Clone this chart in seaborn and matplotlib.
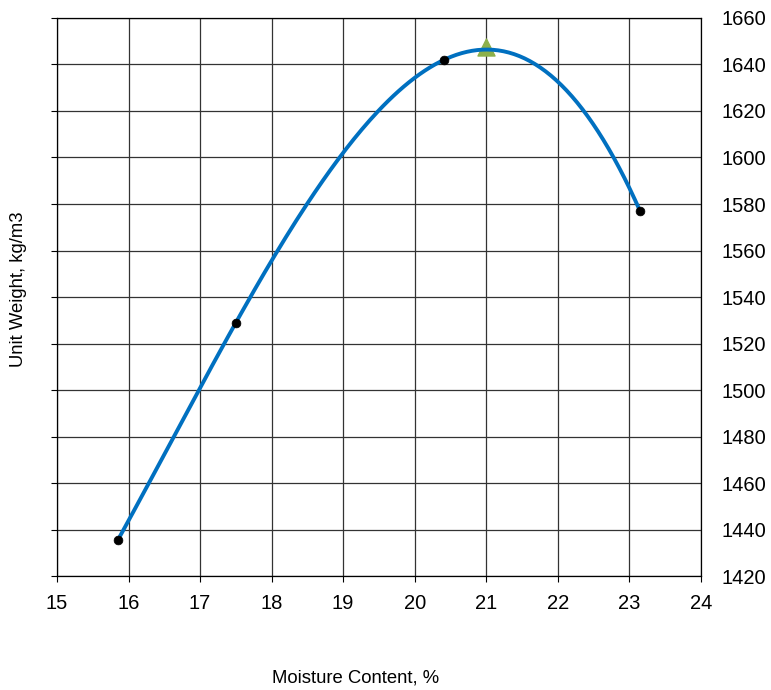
import numpy as np
import pandas as pd
import matplotlib
matplotlib.use("Agg")
import matplotlib.pyplot as plt
import seaborn as sns

# Data
moisture = [15.85, 17.50, 20.41, 23.15]
unit_weight = [1435.5, 1529.0, 1642.0, 1577.0]
opt_moisture = [21.0]
max_weight = [1647.5]

x_ticks = list(range(15, 25))
y_ticks = list(range(1420, 1661, 20))

df = pd.DataFrame({'Moisture': moisture, 'Weight': unit_weight})

# Smooth fit through the measured points (cubic through 4 points)
coef = np.polyfit(df['Moisture'], df['Weight'], 3)
xs = np.linspace(df['Moisture'].min(), df['Moisture'].max(), 200)
fit = pd.DataFrame({'Moisture': xs, 'Weight': np.polyval(coef, xs)})

sns.set_style('white')
plt.rcParams['font.family'] = ['Liberation Sans', 'DejaVu Sans']
plt.rcParams['text.color'] = 'black'
plt.rcParams['xtick.color'] = 'black'
plt.rcParams['ytick.color'] = 'black'

fig = plt.figure(figsize=(7.71, 6.90), dpi=100)
ax = fig.add_axes([0.074, 0.165, 0.835, 0.809])

sns.lineplot(data=fit, x='Moisture', y='Weight', ax=ax, color='#0070c0',
             linewidth=2.8, zorder=3)
sns.scatterplot(data=df, x='Moisture', y='Weight', ax=ax, color='black',
                s=40, edgecolor='black', zorder=4)
ax.scatter(opt_moisture, max_weight, marker='^', s=150, color='#8db04a',
           zorder=2)

ax.set_xlim(15, 24)
ax.set_ylim(1420, 1660)
ax.set_xticks(x_ticks)
ax.set_yticks(y_ticks)
ax.grid(True, color='#333333', linewidth=0.9)
for s in ax.spines.values():
    s.set_visible(True)
    s.set_color('black')
    s.set_linewidth(0.9)

ax.tick_params(axis='both', labelsize=14.5, length=4, color='black',
               labelcolor='black')
ax.tick_params(axis='y', left=True, labelleft=False, right=False, labelright=True,
               pad=11)
ax.tick_params(axis='x', bottom=True, pad=9)

ax.set_xlabel('')
ax.set_ylabel('')
fig.text(0.461, 0.017, 'Moisture Content, %', ha='center', va='center',
         fontsize=13.3, color='black')
fig.text(0.024, 0.581, 'Unit Weight, kg/m3', ha='center', va='center',
         rotation=90, fontsize=13.3, color='black')

fig.savefig('out.png', dpi=100)
